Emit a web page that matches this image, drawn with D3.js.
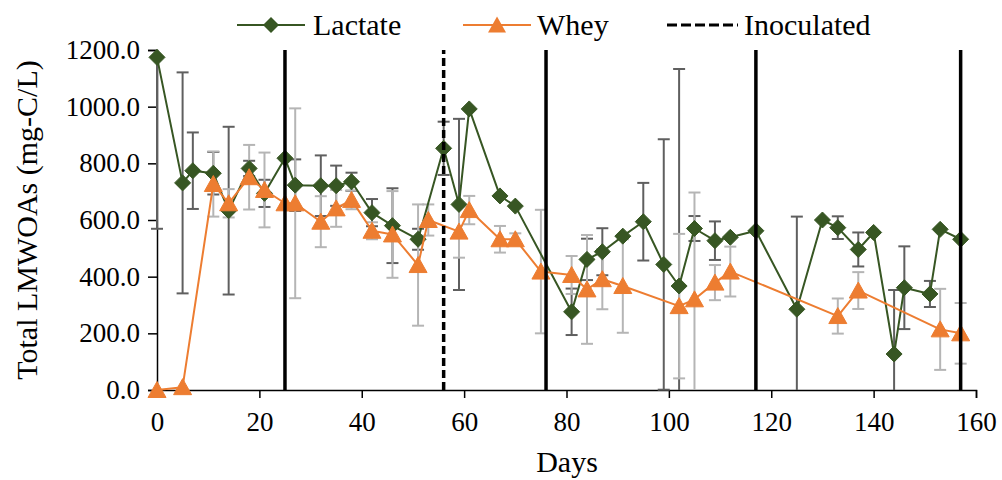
<!DOCTYPE html>
<html>
<head>
<meta charset="utf-8">
<script src="https://cdn.jsdelivr.net/npm/d3@7"></script>
<style>
  html, body { margin: 0; padding: 0; background: #fff; }
  svg { display: block; font-family: "Liberation Serif", "Times New Roman", serif; }
</style>
</head>
<body>
<svg id="chart" width="1002" height="480"></svg>
<script>
// Total low-molecular-weight organic acids over time, per amendment
const lactateDays = [0,5,7,11,14,18,21,25,27,32,35,38,42,46,51,56,59,61,67,70,81,84,87,91,95,99,102,105,109,112,117,125,130,133,137,140,144,146,151,153,157];
const lactateMean = [1174,731,774,765,633,782,694,818,723,721,721,735,626,580,532,853,655,992,685,649,276,461,488,543,594,443,367,570,527,539,562,285,600,573,496,556,127,361,339,567,532];
const lactateErr  = [605,390,135,75,296,27,48,0,91,107,71,32,48,132,37,94,302,0,0,0,82,73,83,0,137,442,766,44,68,0,0,327,0,40,60,0,226,146,46,0,0];

const wheyDays = [0,5,11,14,18,21,25,27,32,35,38,42,46,51,53,59,61,67,70,75,81,84,87,91,102,105,109,112,133,137,153,157];
const wheyMean = [0,10,727,659,751,706,659,659,594,641,671,562,549,441,600,559,635,532,532,418,406,355,391,367,296,320,379,418,261,351,214,200];
const wheyErr  = [0,0,115,50,114,132,0,335,90,65,33,30,153,214,55,92,50,47,21,218,67,192,106,165,255,377,62,88,62,65,143,107];

// Amendment events (solid) and inoculation day (dashed)
const eventDays = [25, 76, 117, 157];
const inoculatedDay = 56;

const xTicks = [0,20,40,60,80,100,120,140,160];
const yTicks = [0,200,400,600,800,1000,1200];

const svg = d3.select("#chart");
const x = d3.scaleLinear().domain([0,160]).range([157,976]);
const y = d3.scaleLinear().domain([0,1200]).range([390,50]);

const GREEN = "#375623", ORANGE = "#ED7D31";

// Axes
const yAxis = d3.axisLeft(y).tickValues(yTicks).tickSize(9).tickPadding(8)
  .tickFormat(d => d3.format(".1f")(d));
const gy = svg.append("g").attr("transform", `translate(${x(0)},0)`).call(yAxis);
gy.select(".domain").attr("stroke", "#000").attr("stroke-width", 1.5);
gy.selectAll(".tick line").attr("stroke", "#000").attr("stroke-width", 1.5);
gy.selectAll(".tick text").attr("font-size", 27).attr("fill", "#000")
  .attr("font-family", "Liberation Serif");

const xAxis = d3.axisBottom(x).tickValues(xTicks).tickSize(8).tickPadding(14);
const gx = svg.append("g").attr("transform", `translate(0,${y(0)})`).call(xAxis);
gx.select(".domain").attr("stroke", "#000").attr("stroke-width", 1.5);
gx.selectAll(".tick line").attr("stroke", "#000").attr("stroke-width", 1.5);
gx.selectAll(".tick text").attr("font-size", 27).attr("fill", "#000")
  .attr("font-family", "Liberation Serif");

// Axis titles
svg.append("text").attr("x", 567).attr("y", 472).attr("text-anchor", "middle")
  .attr("font-size", 30).text("Days");
svg.append("text").attr("transform", `translate(37,${(y(0)+y(1200))/2}) rotate(-90)`)
  .attr("text-anchor", "middle").attr("font-size", 30).text("Total LMWOAs (mg-C/L)");

// Error bars, clipped to the value range of the plot
function errorBars(days, mean, err, color) {
  const rows = days.map((d, i) => ({d, m: mean[i], e: err[i]})).filter(r => r.e > 0);
  const g = svg.append("g").attr("stroke", color).attr("stroke-width", 2).attr("fill", "none");
  rows.forEach(r => {
    const lo = r.m - r.e, hi = r.m + r.e;
    const cx = x(r.d);
    g.append("line").attr("x1", cx).attr("x2", cx)
      .attr("y1", y(Math.max(lo, 0))).attr("y2", y(Math.min(hi, 1200)));
    [lo, hi].forEach(v => {
      if (v >= 0 && v <= 1200) {
        g.append("line").attr("x1", cx - 6).attr("x2", cx + 6).attr("y1", y(v)).attr("y2", y(v));
      }
    });
  });
}
errorBars(lactateDays, lactateMean, lactateErr, "#5f5f5f");
errorBars(wheyDays, wheyMean, wheyErr, "#b5b5b5");

const diamond = "M0,-8L8,0L0,8L-8,0Z";
const triangle = "M0,-8.5L9,7.5L-9,7.5Z";

function series(days, mean, color, shape) {
  const pts = days.map((d, i) => [x(d), y(mean[i])]);
  svg.append("path").attr("d", d3.line()(pts)).attr("fill", "none")
    .attr("stroke", color).attr("stroke-width", 2).attr("stroke-linejoin", "round");
  svg.append("g").selectAll("path").data(pts).join("path")
    .attr("d", shape).attr("transform", p => `translate(${p[0]},${p[1]})`)
    .attr("fill", color).attr("stroke", color).attr("stroke-width", 1);
}
series(lactateDays, lactateMean, GREEN, diamond);
series(wheyDays, wheyMean, ORANGE, triangle);

// Event markers
svg.append("g").selectAll("line").data(eventDays).join("line")
  .attr("x1", d => x(d)).attr("x2", d => x(d)).attr("y1", y(0)).attr("y2", y(1200))
  .attr("stroke", "#000").attr("stroke-width", 3.5);
svg.append("line").attr("x1", x(inoculatedDay)).attr("x2", x(inoculatedDay))
  .attr("y1", y(0)).attr("y2", y(1200))
  .attr("stroke", "#000").attr("stroke-width", 3.5).attr("stroke-dasharray", "8,4");

// Legend
const lg = svg.append("g");
lg.append("line").attr("x1", 237).attr("x2", 305).attr("y1", 25).attr("y2", 25)
  .attr("stroke", GREEN).attr("stroke-width", 2);
lg.append("path").attr("d", diamond).attr("transform", "translate(271,25)").attr("fill", GREEN);
lg.append("text").attr("x", 313).attr("y", 35).attr("font-size", 30).text("Lactate");

lg.append("line").attr("x1", 463).attr("x2", 531).attr("y1", 25).attr("y2", 25)
  .attr("stroke", ORANGE).attr("stroke-width", 2);
lg.append("path").attr("d", triangle).attr("transform", "translate(497,25)").attr("fill", ORANGE);
lg.append("text").attr("x", 537).attr("y", 35).attr("font-size", 30).text("Whey");

lg.append("line").attr("x1", 667).attr("x2", 738).attr("y1", 25).attr("y2", 25)
  .attr("stroke", "#000").attr("stroke-width", 3).attr("stroke-dasharray", "10,4");
lg.append("text").attr("x", 744).attr("y", 35).attr("font-size", 30).text("Inoculated");
</script>
</body>
</html>
